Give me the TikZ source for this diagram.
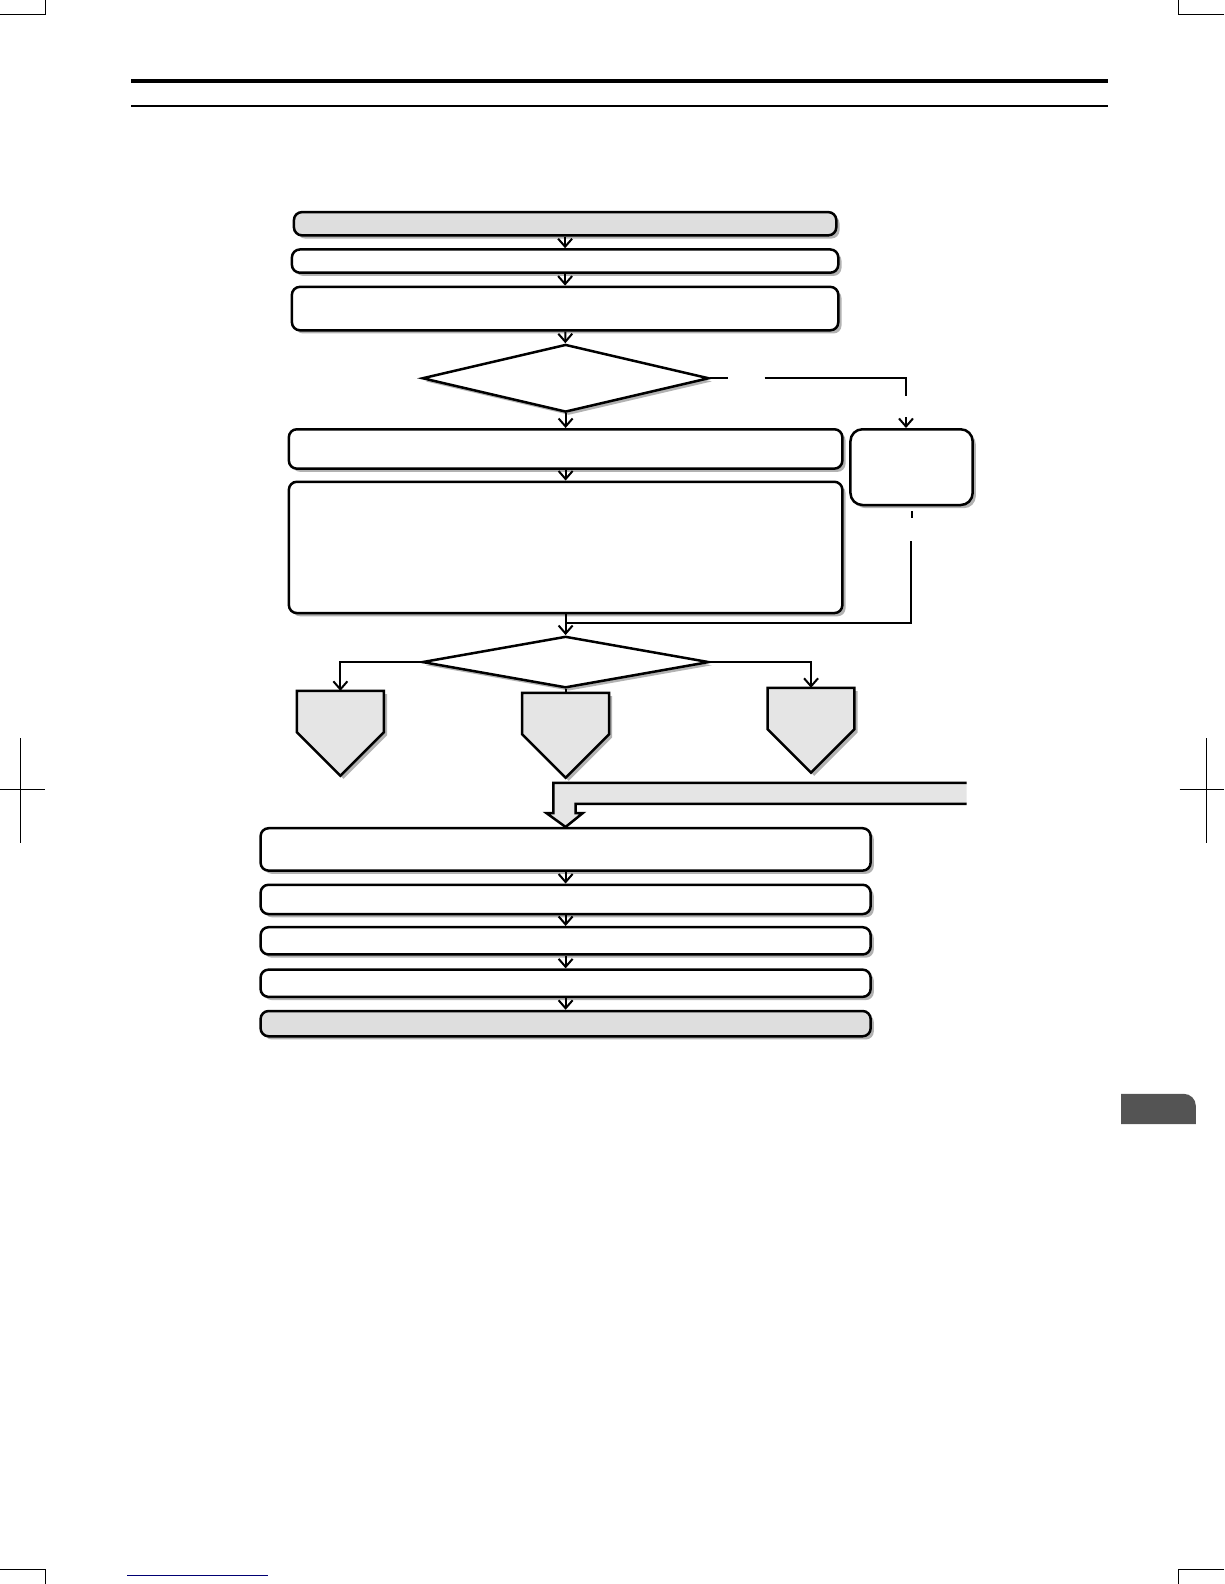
\documentclass[tikz,border=0pt]{standalone}
\usetikzlibrary{shapes.geometric,shadows,arrows.meta}
\begin{document}
\begin{tikzpicture}[x=0.505pt,y=-0.505pt,
		dims/.style 2 args={minimum width={#1*0.505pt},minimum height={#2*0.505pt}},
		lay/.style={drop shadow={shadow xshift=1.6pt,shadow yshift=-1.6pt,fill=black!30,opacity=1}},
		stepbox/.style={draw,line width=1.25pt,rounded corners=4pt,fill=white,inner sep=0pt,lay},
		endbox/.style={stepbox,fill=black!13},
		ask/.style={draw,diamond,line width=1.25pt,fill=white,inner sep=0pt,lay},
		flag/.style={draw,line width=1.25pt,fill=black!10,line join=miter,lay},
		link/.style={line width=1pt},
		go/.style={link,-{Straight Barb[length=4pt,width=7pt,line width=1pt]}},
		cropline/.style={line width=0.5pt}]
			\useasboundingbox (0,0) rectangle (1212,1568.3);
			\draw[cropline] (0,14) -- (45,14) -- (45,0);
			\draw[cropline] (1212,14) -- (1167,14) -- (1167,0);
			\draw[cropline] (0,1554) -- (45,1554) -- (45,1568.3);
			\draw[cropline] (1212,1554) -- (1167,1554) -- (1167,1568.3);
			\draw[cropline] (20,731) -- (20,835);
			\draw[cropline] (0,782) -- (45,782);
			\draw[cropline] (1195,731) -- (1195,835);
			\draw[cropline] (1168,782) -- (1212,782);
			\draw[line width=2pt] (130,80) -- (1097,80);
			\draw[line width=1pt] (130,105) -- (1097,105);
			\draw[line width=0.6pt,blue!45!black] (126,1560) -- (265,1560);
			\fill[black!67] (1184,1113) -- (1110,1113) -- (1110,1083) [rounded corners=6pt] -- (1184,1083) [sharp corners] -- cycle;
			\node[endbox,dims={537}{23}] (start) at (559.5,221.5) {};
			\node[stepbox,dims={541}{23}] (b2) at (559.5,258.5) {};
			\node[stepbox,dims={541}{43}] (b3) at (559.5,305.5) {};
			\node[ask,dims={284}{67}] (dia1) at (560,374.5) {};
			\node[stepbox,dims={548}{39}] (b4) at (560,444.5) {};
			\node[stepbox,dims={548}{130}] (b5) at (560,542) {};
			\node[stepbox,rounded corners=6pt,dims={121}{75}] (side) at (902.5,462.5) {};
			\node[ask,dims={284}{51}] (dia2) at (560,655.5) {};
			\foreach \px/\py/\nm in {337/684/pl,560/686/pm,803/681/pr} {
				\path[flag] (\px-43,\py) -- (\px+43,\py) -- (\px+43,\py+41) -- (\px,\py+84) -- (\px-43,\py+41) -- cycle;
				\coordinate (\nm) at (\px,\py);
			}
			\node[stepbox,dims={604}{42}] (b6) at (560,841) {};
			\node[stepbox,dims={604}{29}] (b7) at (560,890.5) {};
			\node[stepbox,dims={604}{27}] (b8) at (560,931.5) {};
			\node[stepbox,dims={604}{27}] (b9) at (560,973.5) {};
			\node[endbox,dims={604}{25}] (stop) at (560,1013.5) {};
			\draw[go] (start) -- (b2);
			\draw[go] (b2) -- (b3);
			\draw[go] (b3) -- (dia1);
			\draw[go] (dia1) -- (b4);
			\draw[go] (b4) -- (b5);
			\draw[go] (b5) -- (dia2);
			\coordinate (yes1) at (757,374.5);
			\coordinate (sidein) at (897,413);
			\coordinate (back) at (902,536);
			\coordinate (join) at (560,617);
			\draw[link] (dia1.east) -- ++(18,0);
			\draw[link] (yes1) -| (897,392);
			\draw[go] (sidein) -- (sidein |- side.north);
			\draw[link] (side.south) ++(0,5) -- ++(0,7);
			\draw[link] (back) |- (join);
			\draw[go] (dia2.west) -| (pl);
			\draw[go] (dia2.east) -| (pr);
			\draw[link] (dia2.south) -- (pm);
			\draw[line width=1.25pt,fill=black!10] (957,775) -- (548,775) -- (548,805) -- (541,805) -- (b6.north) -- (577,805) -- (570,805) -- (570,796) -- (957,796);
			\draw[go] (b6) -- (b7);
			\draw[go] (b7) -- (b8);
			\draw[go] (b8) -- (b9);
			\draw[go] (b9) -- (stop);
		\end{tikzpicture}
\end{document}
